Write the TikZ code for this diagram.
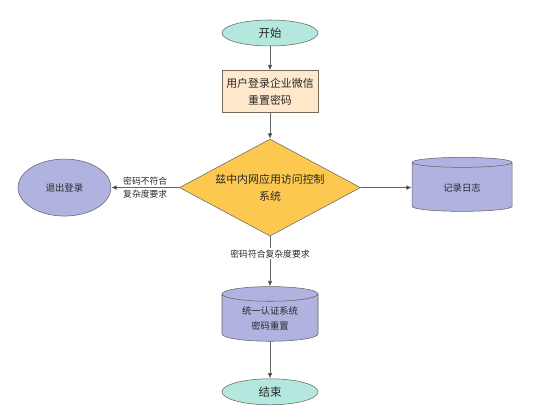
\documentclass[tikz,border=0pt]{standalone}
\usepackage{fontspec}
\setmainfont{Noto Sans CJK SC}
\usepackage{xcolor}
\usepackage{tikz}
\usetikzlibrary{arrows.meta, positioning, shapes.geometric}
\definecolor{mint}{RGB}{180,232,222}
\definecolor{lilac}{RGB}{176,178,224}
\definecolor{peach}{RGB}{255,232,204}
\definecolor{amber}{RGB}{252,200,80}
\definecolor{edge}{RGB}{100,100,100}
\definecolor{ink}{RGB}{40,40,40}

\begin{document}
\begin{tikzpicture}[
  x=0.75pt, y=-0.75pt,
  base/.style={draw=edge, text=ink, align=center, inner sep=1pt},
  term/.style={base, ellipse, fill=mint, minimum width=72pt, minimum height=19.5pt,
               font=\fontsize{8.6}{10}\selectfont},
  proc/.style={base, rectangle, fill=peach, draw=edge!80!brown, minimum width=72pt,
               minimum height=31.5pt, font=\fontsize{8.2}{12.5}\selectfont},
  decide/.style={base, diamond, fill=amber, aspect=1.87, inner sep=0pt,
                 minimum width=135.75pt, minimum height=72.75pt,
                 font=\fontsize{8.2}{13}\selectfont},
  quitnode/.style={base, ellipse, fill=lilac, minimum width=69.75pt, minimum height=42.75pt,
                   font=\fontsize{7}{9}\selectfont},
  store/.style={base, cylinder, shape border rotate=90, aspect=0.25, fill=lilac,
                font=\fontsize{7}{11}\selectfont},
  lbl/.style={font=\fontsize{6.6}{9.5}\selectfont, text=ink, align=center, inner sep=1pt},
  arr/.style={draw=edge, -{Latex[length=4pt, width=3.5pt, fill=black]}, line width=0.6pt}
]
  \useasboundingbox (0,0) rectangle (554,416);

  \node[term] (start) at (270,33) {开始};
  \node[proc, below=18pt of start] (login) {用户登录企业微信\\重置密码};
  \node[decide, below=19.5pt of login] (sys) {兹中内网应用访问控制\\系统};
  \node[quitnode, left=51pt of sys] (quit) {退出登录};
  \node[store, right=38.25pt of sys, minimum width=75pt, minimum height=40.5pt] (log) {记录日志};
  \node[store, below=37.5pt of sys, minimum width=72pt, minimum height=41pt] (reset) {统一认证系统\\密码重置};
  \node[term, below=27.75pt of reset] (finish) {结束};

  \draw[arr] (start) -- (login);
  \draw[arr] (login) -- (sys);
  \draw[arr] (sys.west) -- node[lbl]{密码不符合\\复杂度要求} (quit.east);
  \draw[arr] (sys.east) -- (log.west);
  \draw[arr] (sys.south) -- node[lbl, fill=white, pos=0.35]{密码符合复杂度要求} (reset.north);
  \draw[arr] (reset.south) -- (finish.north);
\end{tikzpicture}
\end{document}
